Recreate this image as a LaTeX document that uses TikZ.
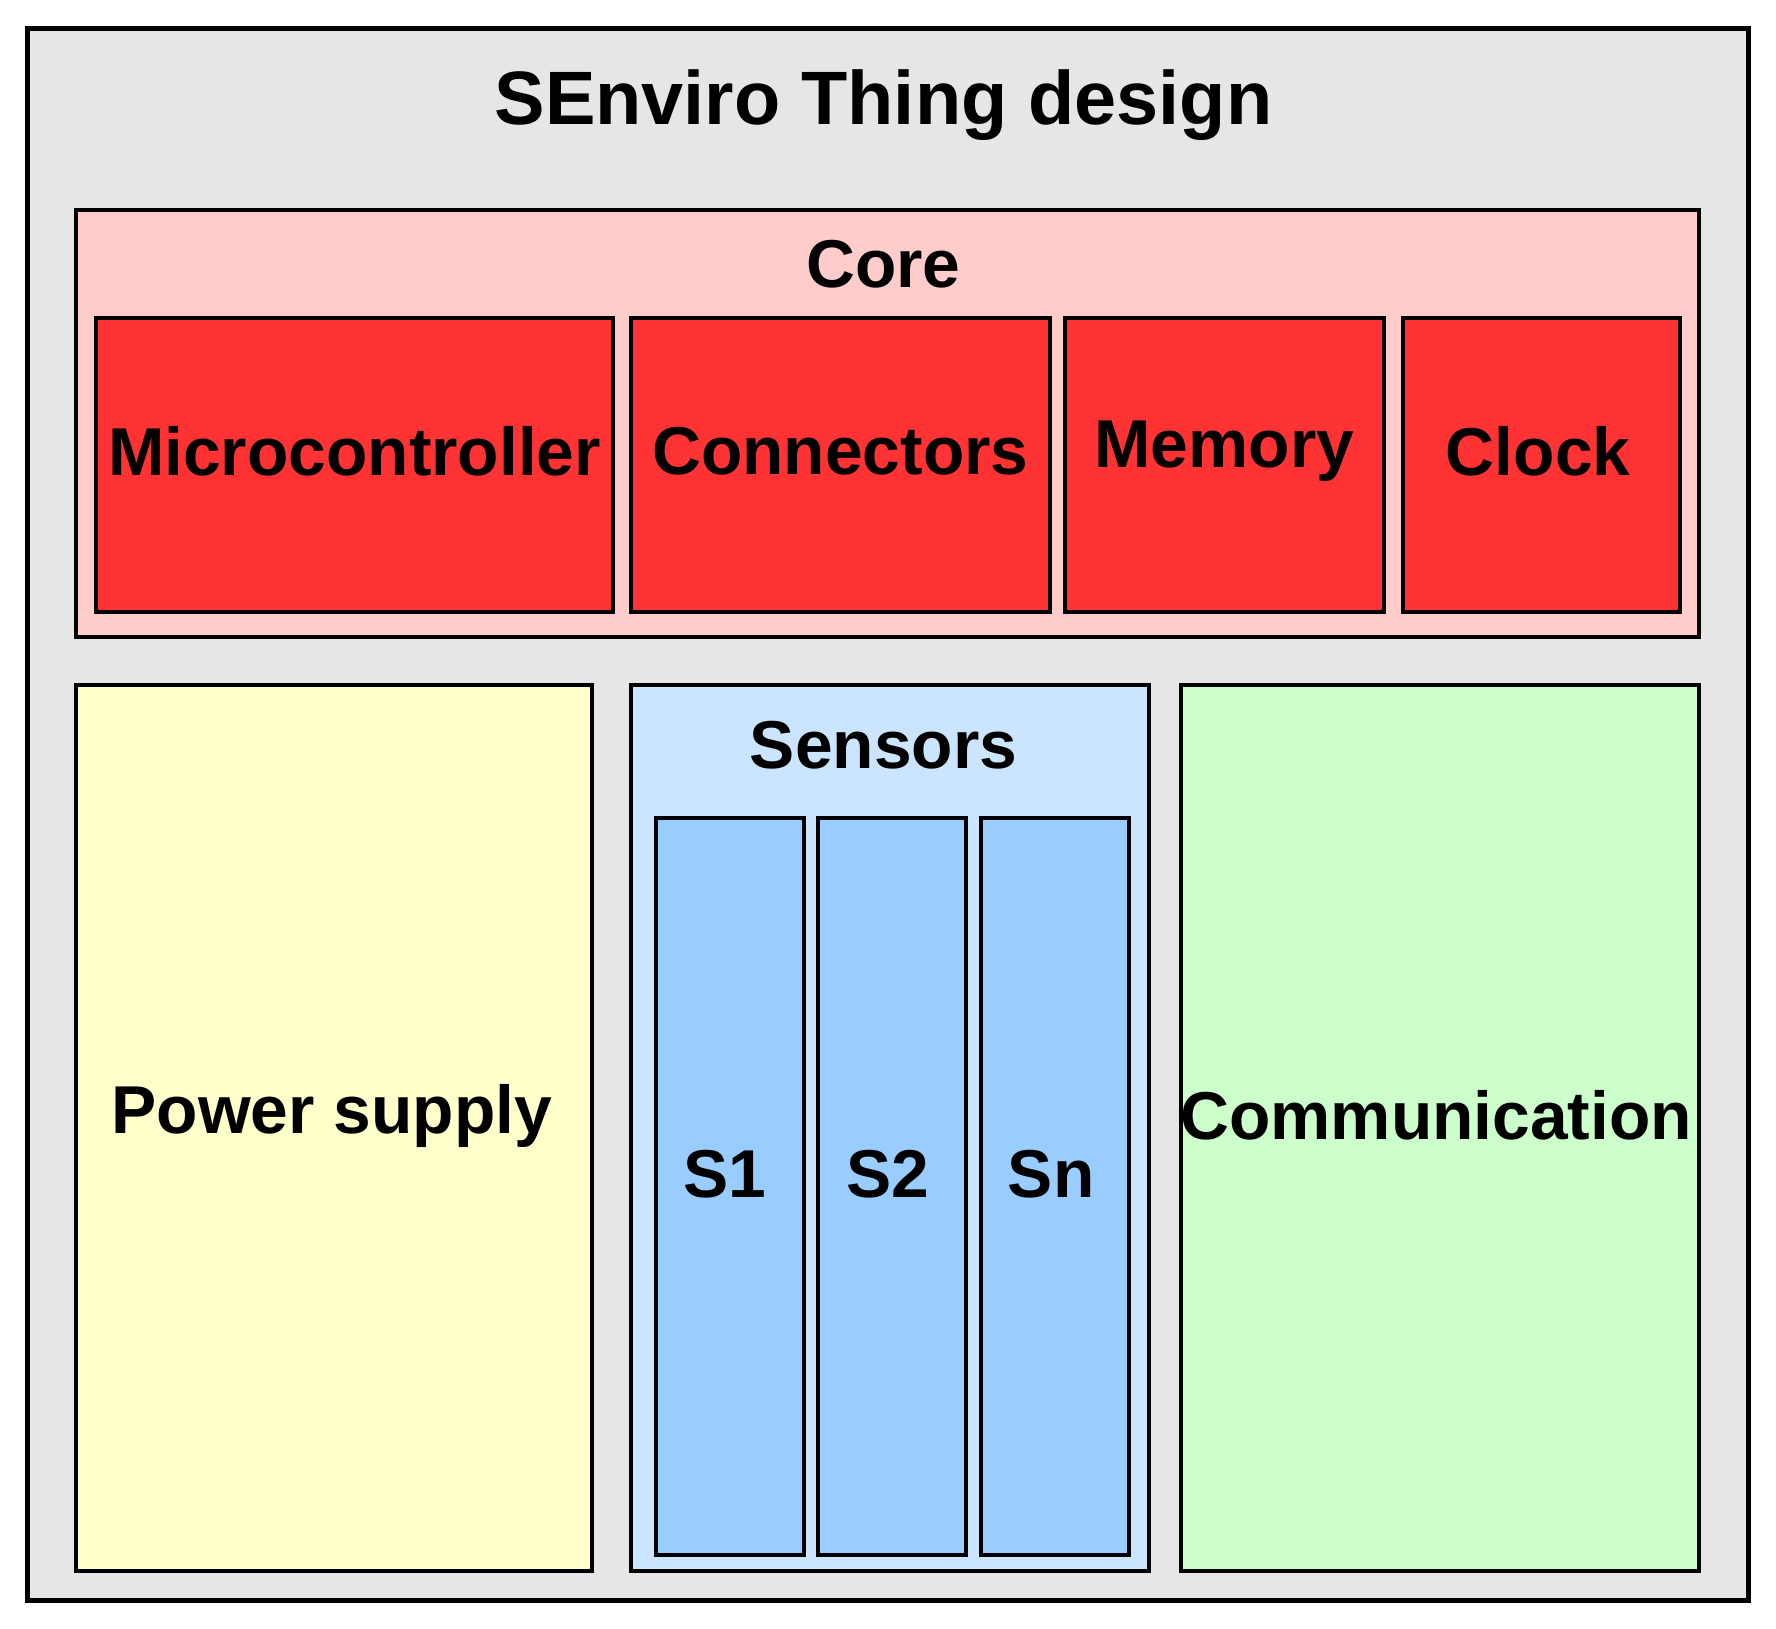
\documentclass[tikz,border=0pt]{standalone}
\usepackage{fontspec}
\setmainfont{Liberation Sans}
\definecolor{outerg}{HTML}{E6E6E6}
\definecolor{corepink}{HTML}{FFCCCC}
\definecolor{corered}{HTML}{FF3333}
\definecolor{powy}{HTML}{FFFFCC}
\definecolor{senb}{HTML}{CCE5FF}
\definecolor{sbox}{HTML}{99CCFF}
\definecolor{comg}{HTML}{CCFFCC}
\begin{document}
\begin{tikzpicture}[x=0.01cm,y=-0.01cm,
  blk/.style={draw=black,line width=1pt},
  lbl/.style={font=\bfseries\fontsize{17}{20}\selectfont}]
\useasboundingbox (0,0) rectangle (1568,1438);
\draw[blk,line width=1.2pt,fill=outerg] (24,25) rectangle (1544,1413);
\node[lbl,font=\bfseries\fontsize{19}{22}\selectfont] (title) at (780,93) {SEnviro Thing design};
\draw[blk,fill=corepink] (67,185) rectangle (1500,562);
\node[lbl] (core) at (780,233) {Core};
\draw[blk,fill=corered] (85,281) rectangle (541,540);
\node[lbl] (mc) at (313,398) {Microcontroller};
\draw[blk,fill=corered] (557,281) rectangle (927,540);
\node[lbl] (con) at (742,398) {Connectors};
\draw[blk,fill=corered] (940,281) rectangle (1222,540);
\node[lbl] (mem) at (1081,398) {Memory};
\draw[blk,fill=corered] (1239,281) rectangle (1483,540);
\node[lbl] (clk) at (1358,398) {Clock};
\draw[blk,fill=powy] (67,605) rectangle (523,1387);
\node[lbl] (pow) at (293,985) {Power supply};
\draw[blk,fill=senb] (557,605) rectangle (1014,1387);
\node[lbl] (sen) at (780,658) {Sensors};
\draw[blk,fill=sbox] (579,722) rectangle (710,1373);
\node[lbl] (s1) at (640,1037) {S1};
\draw[blk,fill=sbox] (722,722) rectangle (853,1373);
\node[lbl] (s2) at (784,1037) {S2};
\draw[blk,fill=sbox] (866,722) rectangle (997,1373);
\node[lbl] (sn) at (928,1037) {Sn};
\draw[blk,fill=comg] (1043,605) rectangle (1500,1387);
\node[lbl] (com) at (1268,985) {Communication};
\end{tikzpicture}
\end{document}
